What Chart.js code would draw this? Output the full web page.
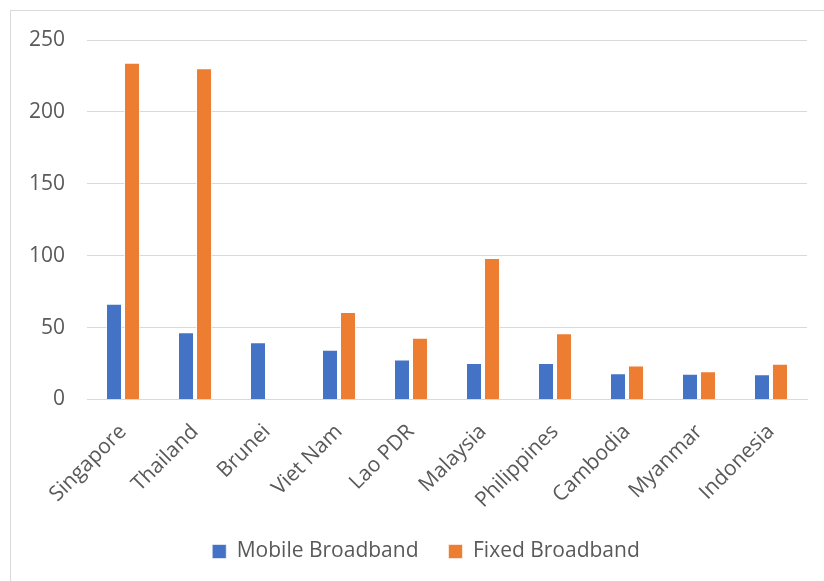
<!DOCTYPE html>
<html>
<head>
<meta charset="utf-8">
<script src="https://cdn.jsdelivr.net/npm/chart.js@4/dist/chart.umd.min.js"></script>
<style>
  html, body { margin: 0; padding: 0; background: #fff; overflow: hidden; }
  #wrap { position: relative; width: 824px; height: 581px; }
  #frame {
    position: absolute; left: 10px; top: 10px;
    width: 900px; height: 700px;
    border: 1px solid #d9d9d9; pointer-events: none;
  }
  canvas { position: absolute; left: 0; top: 0; }
</style>
</head>
<body>
<div id="wrap">
  <canvas id="myChart" width="824" height="581"></canvas>
  <div id="frame"></div>
</div>
<script>
'use strict';

let countries = [ 'Singapore', 'Thailand', 'Brunei', 'Viet Nam', 'Lao PDR',
  'Malaysia', 'Philippines', 'Cambodia', 'Myanmar', 'Indonesia' ];

let mobileBroadband = [ 66.6, 46.8, 39.7, 34.6, 27.8, 25.3, 25.3, 18.3, 17.9, 17.6 ];
let fixedBroadband = [ 234.2, 230.3, 0, 60.8, 42.9, 98.3, 46.1, 23.7, 19.7, 24.8 ];

let yTicks = [ 0, 50, 100, 150, 200, 250 ];

let textColor = '#595959';
let gridColor = '#d9d9d9';
let fontFamily = '"Open Sans", "Liberation Sans", sans-serif';

// legend in the original sits a bit right of the plot centre
let shiftLegend = {
  id: 'shiftLegend',
  afterLayout( chart ) {
    chart.legend.left += 19;
    chart.legend.right += 19;
  }
};

let ctx = document.getElementById( 'myChart' ).getContext( '2d' );

let myChart = new Chart( ctx, {
  type: 'bar',
  data: {
    labels: countries,
    datasets: [
      {
        label: 'Mobile Broadband',
        data: mobileBroadband,
        backgroundColor: '#4472c4',
        borderColor: 'rgba(255, 255, 255, 0.6)',
        borderWidth: 1
      },
      {
        label: 'Fixed Broadband',
        data: fixedBroadband,
        backgroundColor: '#ed7d31',
        borderColor: 'rgba(255, 255, 255, 0.6)',
        borderWidth: 1
      }
    ]
  },
  plugins: [ shiftLegend ],
  options: {
    responsive: false,
    animation: false,
    devicePixelRatio: 1,
    categoryPercentage: 0.5,
    barPercentage: 0.89,
    layout: {
      padding: { left: 7, right: 17, top: 40, bottom: 9 }
    },
    plugins: {
      tooltip: { enabled: false },
      legend: {
        position: 'bottom',
        labels: {
          color: textColor,
          font: { family: fontFamily, size: 21 },
          boxWidth: 14,
          boxHeight: 14,
          borderWidth: 0,
          padding: 30
        }
      }
    },
    scales: {
      x: {
        grid: { display: false, drawTicks: false },
        border: { color: gridColor, width: 1 },
        ticks: {
          color: textColor,
          font: { family: fontFamily, size: 21 },
          minRotation: 45,
          maxRotation: 45,
          padding: 20
        },
        afterFit( axis ) {
          axis.height -= 22;
        }
      },
      y: {
        min: yTicks[0],
        max: yTicks[yTicks.length - 1],
        afterBuildTicks( axis ) {
          axis.ticks = yTicks.map( v => ( { value: v } ) );
        },
        grid: { color: gridColor, lineWidth: 1, drawTicks: false },
        border: { display: false },
        ticks: {
          color: textColor,
          font: { family: fontFamily, size: 21 },
          padding: 22
        }
      }
    }
  }
} );
</script>
</body>
</html>
